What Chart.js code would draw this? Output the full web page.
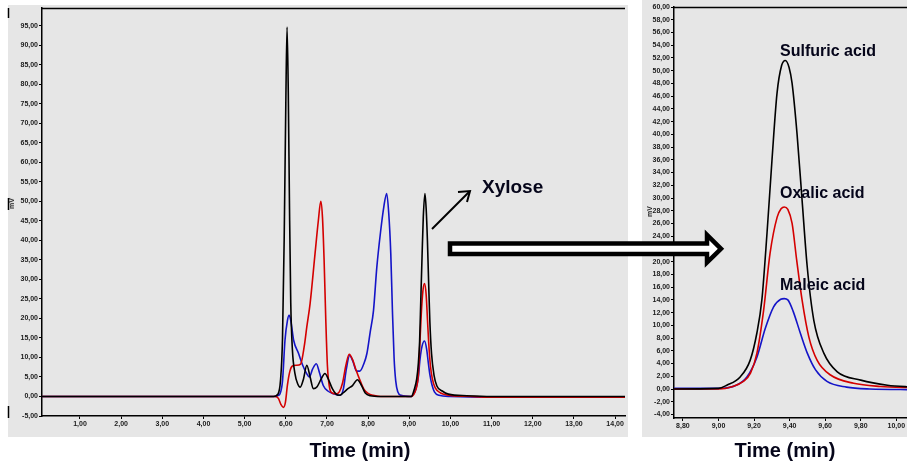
<!DOCTYPE html>
<html><head><meta charset="utf-8">
<script src="https://cdn.jsdelivr.net/npm/chart.js@4.4.0/dist/chart.umd.min.js"></script>
<style>
html,body{margin:0;padding:0;background:#fff}
body{width:907px;height:468px;overflow:hidden;position:relative;font-family:'Liberation Sans',Arial,sans-serif}
#lp{position:absolute;left:8px;top:5px;width:620px;height:432px;background:#e6e6e6}
#rp{position:absolute;left:642px;top:0;width:265px;height:437px;background:#e6e6e6}
.t{position:absolute;font-weight:bold;color:#05051a;white-space:nowrap;line-height:1}
.mv{position:absolute;font-size:7px;font-weight:bold;color:#222;transform:rotate(-90deg);transform-origin:center;line-height:1}
svg{position:absolute;left:0;top:0}
</style></head><body>
<div id="lp"><canvas id="c1"></canvas></div>
<div id="rp"><canvas id="c2"></canvas></div>
<div class="mv" style="left:6px;top:200px">mV</div>
<div class="mv" style="left:644px;top:208px">mV</div>
<svg width="907" height="468">
  <line x1="8.5" y1="8" x2="8.5" y2="18" stroke="#000" stroke-width="1.5"/>
  <line x1="8.5" y1="198" x2="8.5" y2="210" stroke="#000" stroke-width="1.5"/>
  <line x1="8.5" y1="406" x2="8.5" y2="418" stroke="#000" stroke-width="1.5"/>
  <line x1="432" y1="229" x2="469" y2="192" stroke="#000" stroke-width="2"/>
  <polyline points="458,192 470,191 467,202" fill="none" stroke="#000" stroke-width="2"/>
  <polygon points="450,243.5 707,243.5 707,235 721,248.8 707,262.5 707,254 450,254" fill="#fff" stroke="#000" stroke-width="4.5" stroke-linejoin="miter"/>
</svg>
<div class="t" style="left:260px;top:440px;width:200px;text-align:center;font-size:20px">Time (min)</div>
<div class="t" style="left:685px;top:440px;width:200px;text-align:center;font-size:20px">Time (min)</div>
<div class="t" style="left:482px;top:177px;font-size:19px">Xylose</div>
<div class="t" style="left:780px;top:43px;font-size:16px">Sulfuric acid</div>
<div class="t" style="left:780px;top:185px;font-size:16px">Oxalic acid</div>
<div class="t" style="left:780px;top:277px;font-size:16px">Maleic acid</div>
<script>
// ---- Left chromatogram (full run) ----
const leftXTicks = [1,2,3,4,5,6,7,8,9,10,11,12,13,14];
const leftYTicks = [-5,0,5,10,15,20,25,30,35,40,45,50,55,60,65,70,75,80,85,90,95];

const leftBlackT = [0,5.70,5.80,5.87,5.92,5.96,6.00,6.03,6.06,6.09,6.12,6.16,6.22,6.29,6.35,6.43,6.51,6.59,6.67,6.76,6.86,6.95,7.03,7.13,7.22,7.30,7.40,7.51,7.62,7.74,7.84,7.93,8.05,8.30,9.05,9.12,9.18,9.22,9.25,9.28,9.31,9.34,9.38,9.41,9.44,9.47,9.50,9.54,9.60,9.67,9.80,9.95,10.40,11.0,14.3];
const leftBlackV = [0,0,0.5,4,15,40,75,94.6,78,48,24,12,6,3.2,2.4,4.5,8,5,2,2.5,4.5,5.9,4.5,2,0.6,0.3,1.0,2,2.8,4.3,2.8,0.9,0.2,0,0,1.8,4.5,8.5,14,25,36,46,52,48,40,29,19,11,5.5,2.7,1.4,0.6,0.2,0,0];

const leftRedT = [0,5.75,5.82,5.88,5.94,5.99,6.04,6.10,6.16,6.26,6.36,6.45,6.51,6.59,6.71,6.79,6.85,6.89,6.93,6.97,7.01,7.06,7.13,7.22,7.30,7.38,7.46,7.54,7.62,7.70,7.80,7.90,8.00,8.12,8.30,9.05,9.14,9.18,9.22,9.25,9.29,9.33,9.37,9.41,9.44,9.47,9.51,9.56,9.63,9.76,9.91,10.5,11.0,14.3];
const leftRedV = [0,0,-0.5,-2,-2.8,-1.5,3,6.5,7.8,8,8.3,13,17.8,23.8,36.6,45,50,46,35,20,8,2.4,0.9,0.7,1.2,3.5,8,10.8,9.5,7,4.2,1.8,0.8,0.3,0,0,1.2,2.5,5.6,12,21,27,28.9,26,20,14,8.2,4.5,2.2,0.9,0.4,0,-0.2,-0.2];

const leftBlueT = [0,5.75,5.82,5.86,5.92,5.98,6.04,6.08,6.12,6.19,6.31,6.41,6.50,6.57,6.65,6.74,6.82,6.91,7.02,7.16,7.32,7.40,7.47,7.55,7.63,7.72,7.80,7.90,7.97,8.05,8.13,8.21,8.30,8.38,8.45,8.50,8.55,8.59,8.63,8.67,8.72,8.80,9.05,9.10,9.16,9.22,9.26,9.31,9.37,9.42,9.46,9.50,9.55,9.61,9.72,10.0,11.0,14.3];
const leftBlueV = [0,0,0.3,0.7,4,14.4,19.5,20.8,19.5,14.4,11,8,6,5,7,8.4,6,2.8,1.4,0.7,0.3,2,7,10.5,9,6.5,6.5,8.5,11,16.5,22,33,42,48.5,52,47,36.6,22,10,4,1.2,0.3,0,0.6,1.9,5,9.5,12.9,14.2,12.2,8.8,5.6,3,1.2,0.3,0,-0.2,-0.2];

// ---- Right chromatogram (xylose zoom) ----
const rightXTicks = [8.8,9.0,9.2,9.4,9.6,9.8,10.0];
const rightYTicks = [-4,-2,0,2,4,6,8,10,12,14,16,18,20,22,24,26,28,30,32,34,36,38,40,42,44,46,48,50,52,54,56,58,60];

const sulfuricT = [8.70,9.00,9.047,9.122,9.178,9.216,9.244,9.273,9.301,9.329,9.355,9.376,9.397,9.414,9.442,9.47,9.499,9.536,9.593,9.668,9.80,9.95,10.10];
const sulfuricV = [0,0.1,0.6,1.9,4.5,8.8,14,24.5,36,46.4,50.8,51.6,50.5,48,40,29.7,19.2,10.8,5.6,2.7,1.4,0.6,0.3];

const oxalicT = [8.70,9.00,9.08,9.14,9.18,9.216,9.254,9.29,9.33,9.352,9.37,9.39,9.414,9.44,9.47,9.508,9.555,9.63,9.76,9.91,10.10];
const oxalicV = [0,0,0.4,1.2,2.5,5.6,12.4,21.3,27,28.3,28.6,28.2,26,20.2,14,8.2,4.5,2.2,0.9,0.4,0.2];

const maleicT = [8.70,9.00,9.10,9.16,9.216,9.263,9.31,9.35,9.37,9.39,9.42,9.46,9.50,9.546,9.61,9.72,9.85,10.10];
const maleicV = [0.1,0.1,0.6,1.9,5,9.5,12.9,14.1,14.2,14,12.2,8.8,5.6,3,1.2,0.3,0,-0.1];

const pts = (T, V) => T.map((t, i) => ({x: t, y: V[i]}));
const fmt = v => v.toFixed(2).replace('.', ',');
const BLACK = '#000000', RED = '#d40000', BLUE = '#1414c8';

const framePlugin = {
  id: 'frame',
  afterDraw(chart) {
    const {ctx, chartArea: a} = chart;
    ctx.save();
    ctx.strokeStyle = '#000';
    ctx.lineWidth = 1.5;
    ctx.beginPath();
    ctx.moveTo(a.left, a.top + 0.5);
    ctx.lineTo(a.right, a.top + 0.5);
    ctx.stroke();
    ctx.restore();
  }
};

function ds(data, color) {
  return {data, borderColor: color, borderWidth: 1.6, pointRadius: 0, fill: false,
          cubicInterpolationMode: 'monotone'};
}

function axis(min, max, ticks, fitSize, horizontal) {
  return {
    type: 'linear', min, max,
    afterBuildTicks: s => { s.ticks = ticks.map(v => ({value: v})); },
    afterFit: s => {
      if (horizontal) { s.height = fitSize; s.paddingLeft = 0; s.paddingRight = 0; }
      else { s.width = fitSize; s.paddingTop = 0; s.paddingBottom = 0; }
    },
    ticks: {callback: v => fmt(v), autoSkip: false, maxRotation: 0, padding: 1,
            color: '#1a1a1a', font: {family: 'Liberation Sans', size: 7, weight: 'bold'}},
    grid: {drawOnChartArea: false, drawTicks: true, tickLength: 3, color: '#000', lineWidth: 1},
    border: {display: true, color: '#000', width: 1.5}
  };
}

function makeChart(id, datasets, xs, ys, padding) {
  return new Chart(document.getElementById(id), {
    type: 'line',
    data: {datasets},
    options: {
      responsive: true, maintainAspectRatio: false, animation: false,
      layout: {padding},
      plugins: {legend: {display: false}, tooltip: {enabled: false}},
      scales: {x: xs, y: ys}
    },
    plugins: [framePlugin]
  });
}

makeChart('c1',
  [ds(pts(leftBlackT, leftBlackV), BLACK), ds(pts(leftRedT, leftRedV), RED), ds(pts(leftBlueT, leftBlueV), BLUE)],
  axis(0.077, 14.24, leftXTicks, 21, true),
  axis(-5, 99.5, leftYTicks, 34, false),
  {left: 0, top: 3, right: 3, bottom: 0});

makeChart('c2',
  [ds(pts(sulfuricT, sulfuricV), BLACK), ds(pts(oxalicT, oxalicV), RED), ds(pts(maleicT, maleicV), BLUE)],
  axis(8.75, 10.06, rightXTicks, 19, true),
  axis(-4.55, 60, rightYTicks, 32, false),
  {left: 0, top: 7, right: 0, bottom: 0});
</script>
</body></html>
